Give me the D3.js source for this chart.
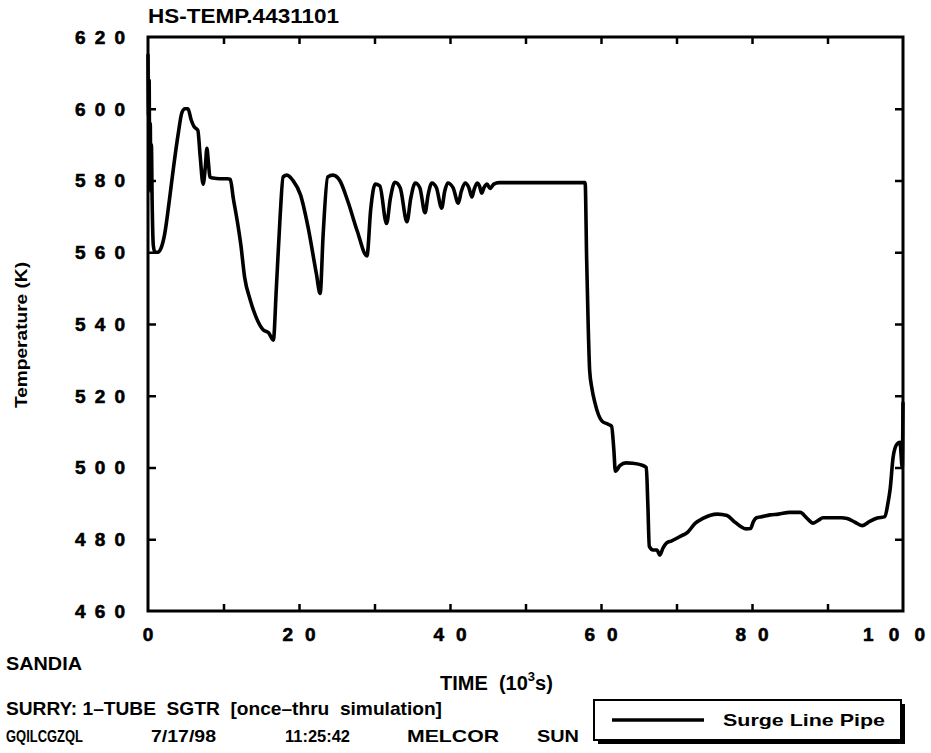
<!DOCTYPE html>
<html>
<head>
<meta charset="utf-8">
<script src="https://cdn.jsdelivr.net/npm/d3@7"></script>
<style>
  html, body { margin: 0; padding: 0; background: #fff; }
  svg { display: block; }
  text { font-family: "Liberation Sans Narrow", "Liberation Sans", Arial, sans-serif; fill: #000; }
</style>
</head>
<body>
<script>
// ---- data ----
const time = [0, 0.08, 0.15, 0.22, 0.3, 0.37, 0.45, 0.55, 0.7, 0.9, 1.3, 1.7, 2.2, 2.8, 3.4, 4.0, 4.5, 4.9, 5.3, 5.7, 6.1, 6.6, 6.9, 7.3, 7.6, 7.8, 8.0, 8.2, 8.6, 9.5, 10.5, 10.9, 11.3, 11.8, 12.3, 12.8, 13.5, 14.3, 15.2, 16.0, 16.6, 17.0, 17.5, 17.9, 18.4, 19.2, 20.2, 21.2, 22.3, 22.8, 23.2, 23.8, 24.5, 25.4, 26.5, 27.7, 29.0, 29.5, 30.1, 30.7, 31.6, 32.1, 32.7, 33.4, 34.3, 34.8, 35.4, 36.0, 36.7, 37.1, 37.6, 38.2, 38.9, 39.3, 39.7, 40.4, 41.1, 41.5, 42.0, 42.5, 42.9, 43.2, 43.6, 43.9, 44.2, 44.5, 44.9, 45.3, 45.8, 46.5, 50, 55, 57.9, 58.1, 58.3, 58.5, 58.8, 59.2, 60.1, 61.0, 61.4, 61.7, 61.9, 62.5, 63.3, 64.2, 65.2, 66.0, 66.2, 66.4, 66.9, 67.4, 67.8, 68.2, 68.7, 69.3, 70.5, 71.5, 72.5, 73.5, 74.5, 75.4, 76.7, 77.6, 78.4, 79.2, 79.8, 80.2, 80.6, 81.3, 82.4, 83.5, 85, 86.4, 87.2, 88.1, 88.8, 89.4, 90.5, 91.8, 92.6, 93.6, 94.6, 95.6, 96.6, 97.6, 98.0, 98.3, 98.7, 99.2, 99.6, 99.9, 100];
const temperature = [615, 598, 608, 583, 596, 577, 590, 574, 562, 560, 560, 561, 565, 574, 584, 593, 599, 600, 600, 597, 595, 594, 587, 579, 584, 589, 585, 581, 580.7, 580.5, 580.5, 580.3, 575, 569, 562, 553, 547, 542, 538.5, 537.5, 535.5, 550, 570, 581, 581.5, 580, 576, 567, 554, 548.5, 565, 581, 581.5, 580, 574, 566, 559, 572, 579, 578.5, 568, 575, 579.5, 578, 568.5, 575, 579.3, 578, 571, 576, 579.3, 578, 572.3, 577, 579.3, 578, 573.7, 577, 579.3, 578, 575.4, 577.5, 579.3, 578.5, 576.5, 578, 579, 577.8, 579, 579.4, 579.4, 579.4, 579.4, 558, 540, 527, 522, 518, 513, 512, 511.5, 505, 499, 500.5, 501.3, 501.2, 500.8, 500, 490, 478, 477, 477, 475.6, 477.5, 479, 479.5, 480.8, 482, 484.5, 485.8, 486.7, 487, 486.6, 485, 483.7, 482.9, 483, 485, 486, 486.3, 486.8, 487, 487.5, 487.5, 486, 484.5, 485.3, 486, 486, 486, 485.8, 484.8, 483.8, 485, 485.9, 486.3, 490, 494, 503, 506.5, 507, 500, 518];
const xTicks = [0, 10, 20, 30, 40, 50, 60, 70, 80, 90, 100];
const xTickLabels = [0, 20, 40, 60, 80, 100];
const yTicks = [460, 480, 500, 520, 540, 560, 580, 600, 620];
const seriesName = "Surge Line Pipe";
const plotTitle = "HS-TEMP.4431101";
const xLabel = "TIME  (10";
const yLabel = "Temperature (K)";
const footerTop = "SANDIA";
const footerRun = "SURRY: 1\u2013TUBE  SGTR  [once\u2013thru  simulation]";
const footerId = ["GQILCGZQL", "7/17/98", "11:25:42", "MELCOR", "SUN"];

// ---- layout ----
const W = 931, H = 753;
const L = 148, R = 903, T = 37, B = 611;

const svg = d3.select("body").append("svg").attr("width", W).attr("height", H);

const x = d3.scaleLinear().domain([0, 100]).range([L, R]);
const y = d3.scaleLinear().domain([460, 620]).range([B, T]);

// frame
svg.append("rect").attr("x", L).attr("y", T).attr("width", R - L).attr("height", B - T)
  .attr("fill", "none").attr("stroke", "#000").attr("stroke-width", 3);

// axes with inward ticks
const tickStyle = g => { g.select(".domain").remove(); g.selectAll("line").attr("stroke", "#000").attr("stroke-width", 2.5); };
svg.append("g").attr("transform", `translate(0,${B})`)
  .call(d3.axisTop(x).tickValues(xTicks.slice(1, -1)).tickSize(7).tickFormat(""))
  .call(tickStyle);
svg.append("g").attr("transform", `translate(0,${T})`)
  .call(d3.axisBottom(x).tickValues(xTicks.slice(1, -1)).tickSize(7).tickFormat(""))
  .call(tickStyle);
svg.append("g").attr("transform", `translate(${L},0)`)
  .call(d3.axisRight(y).tickValues(yTicks.slice(1, -1)).tickSize(8).tickFormat(""))
  .call(tickStyle);
svg.append("g").attr("transform", `translate(${R},0)`)
  .call(d3.axisLeft(y).tickValues(yTicks.slice(1, -1)).tickSize(8).tickFormat(""))
  .call(tickStyle);

// tick labels
svg.append("g").selectAll("text").data(yTicks).join("text")
  .attr("x", 125).attr("y", d => y(d)).attr("dy", "0.36em")
  .attr("text-anchor", "end")
  .attr("font-family", "Liberation Sans, Arial, sans-serif")
  .attr("font-size", 19).attr("font-weight", "bold")
  .attr("stroke", "#000").attr("stroke-width", 0.6)
  .attr("textLength", 50).attr("lengthAdjust", "spacing")
  .text(d => d);
svg.append("g").selectAll("text").data(xTickLabels).join("text")
  .attr("x", d => d === 100 ? x(d) - 9 : x(d)).attr("y", 641)
  .attr("text-anchor", "middle")
  .attr("font-family", "Liberation Sans, Arial, sans-serif")
  .attr("font-size", 19).attr("font-weight", "bold")
  .attr("stroke", "#000").attr("stroke-width", 0.6)
  .attr("textLength", d => String(d).length === 1 ? 12 : (String(d).length === 2 ? 33 : 62))
  .attr("lengthAdjust", "spacing")
  .text(d => d);

// title
svg.append("text").attr("x", 148).attr("y", 23).attr("font-size", 20).attr("font-weight", "bold")
  .attr("textLength", 191).attr("lengthAdjust", "spacingAndGlyphs").text(plotTitle);

// y label
svg.append("text").attr("transform", "translate(27,335) rotate(-90)")
  .attr("text-anchor", "middle").attr("font-size", 17).attr("font-weight", "bold")
  .attr("textLength", 146).attr("lengthAdjust", "spacingAndGlyphs").text(yLabel);

// x label
const xl = svg.append("text").attr("x", 440).attr("y", 690).attr("font-size", 20).attr("font-weight", "bold")
  .style("white-space", "pre");
xl.append("tspan").text(xLabel);
xl.append("tspan").attr("font-size", 13).attr("dy", -9).text("3");
xl.append("tspan").attr("dy", 9).text("s)");

// footer
svg.append("text").attr("x", 6).attr("y", 670).attr("font-size", 19).attr("font-weight", "bold")
  .attr("textLength", 76).attr("lengthAdjust", "spacingAndGlyphs").text(footerTop);
svg.append("text").attr("x", 6).attr("y", 715).attr("font-size", 19).attr("font-weight", "bold")
  .attr("textLength", 436).attr("lengthAdjust", "spacingAndGlyphs").style("white-space", "pre").text(footerRun);
const idX = [6, 151, 285, 407, 537];
const idW = [77, 65, 65, 92, 42];
svg.append("g").selectAll("text").data(footerId).join("text")
  .attr("x", (d, i) => idX[i]).attr("y", 742)
  .attr("font-family", "Liberation Sans, Arial, sans-serif")
  .attr("font-size", 17).attr("font-weight", "bold")
  .attr("textLength", (d, i) => idW[i]).attr("lengthAdjust", "spacingAndGlyphs").text(d => d);

// curve
const pts = time.map((t, i) => [t, temperature[i]]);
svg.append("path").datum(pts)
  .attr("fill", "none").attr("stroke", "#000").attr("stroke-width", 3.6)
  .attr("stroke-linejoin", "round").attr("stroke-linecap", "round")
  .attr("d", d3.line().curve(d3.curveMonotoneX).x(d => x(d[0])).y(d => y(d[1])));

// legend
const lg = svg.append("g");
lg.append("rect").attr("x", 598).attr("y", 704).attr("width", 307).attr("height", 40).attr("fill", "#000");
lg.append("rect").attr("x", 594).attr("y", 700).attr("width", 307).attr("height", 40)
  .attr("fill", "#fff").attr("stroke", "#000").attr("stroke-width", 2);
lg.append("line").attr("x1", 612).attr("x2", 704).attr("y1", 720).attr("y2", 720)
  .attr("stroke", "#000").attr("stroke-width", 3.6);
lg.append("text").attr("x", 723).attr("y", 726).attr("font-size", 17).attr("font-weight", "bold")
  .attr("textLength", 162).attr("lengthAdjust", "spacingAndGlyphs").text(seriesName);
</script>
</body>
</html>
